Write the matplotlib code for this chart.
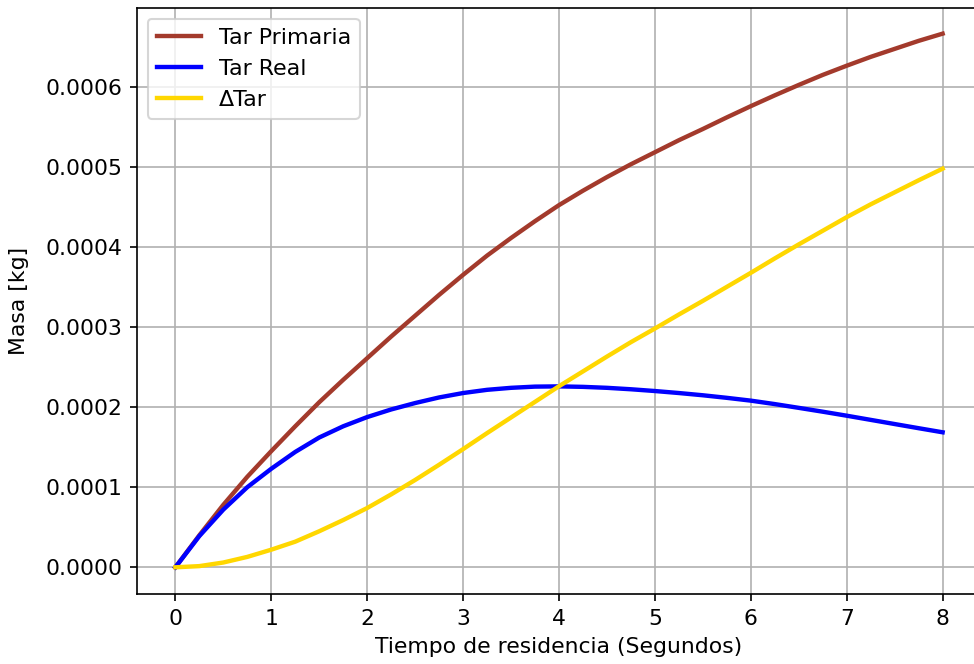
import matplotlib
matplotlib.use("Agg")
import matplotlib.pyplot as plt
from matplotlib.ticker import FormatStrFormatter

# residence time (s), every 0.25 s
tiempo = [0, 0.25, 0.5, 0.75, 1, 1.25, 1.5, 1.75, 2, 2.25, 2.5, 2.75, 3, 3.25, 3.5, 3.75,
          4, 4.25, 4.5, 4.75, 5, 5.25, 5.5, 5.75, 6, 6.25, 6.5, 6.75, 7, 7.25, 7.5, 7.75, 8]

# masses in units of 1e-4 kg
tar_primaria = [0, 0.40, 0.78, 1.13, 1.45, 1.76, 2.06, 2.34, 2.61, 2.88, 3.14, 3.40, 3.65,
                3.89, 4.11, 4.32, 4.52, 4.70, 4.87, 5.03, 5.18, 5.33, 5.47, 5.615, 5.755,
                5.89, 6.02, 6.145, 6.26, 6.37, 6.47, 6.57, 6.66]
tar_real = [0, 0.39, 0.72, 1.00, 1.23, 1.44, 1.62, 1.76, 1.875, 1.97, 2.05, 2.12, 2.175,
            2.215, 2.24, 2.255, 2.258, 2.252, 2.24, 2.222, 2.20, 2.175, 2.147, 2.115, 2.08,
            2.037, 1.99, 1.942, 1.892, 1.84, 1.788, 1.736, 1.685]
delta_tar = [0, 0.015, 0.06, 0.13, 0.22, 0.32, 0.45, 0.59, 0.74, 0.91, 1.09, 1.28, 1.475,
             1.675, 1.87, 2.065, 2.26, 2.445, 2.63, 2.81, 2.98, 3.155, 3.325, 3.50, 3.675,
             3.855, 4.03, 4.20, 4.37, 4.53, 4.68, 4.83, 4.975]

plt.rcParams["font.size"] = 10.5

fig = plt.figure(figsize=(974 / 150, 664 / 150), dpi=150)
ax = fig.add_axes([137 / 974, 70 / 664, (981 - 137) / 974, (594 - 8) / 664])

ax.plot(tiempo, [v * 1e-4 for v in tar_primaria], color="#a33a2c", lw=2.1, label="Tar Primaria")
ax.plot(tiempo, [v * 1e-4 for v in tar_real], color="#0000ff", lw=2.1, label="Tar Real")
ax.plot(tiempo, [v * 1e-4 for v in delta_tar], color="#ffd700", lw=2.1, label="\u0394Tar")

ax.set_xlim(-0.4, 8.4)
ax.set_ylim(-0.0000333, 0.000698)
ax.set_xticks(range(0, 9))
ax.set_yticks([0, 0.0001, 0.0002, 0.0003, 0.0004, 0.0005, 0.0006])
ax.yaxis.set_major_formatter(FormatStrFormatter("%.4f"))
ax.grid(True, color="#b0b0b0", lw=0.8)
ax.set_xlabel("Tiempo de residencia (Segundos)")
ax.set_ylabel("Masa [kg]", labelpad=8)
ax.legend(loc="upper left", fontsize=10.6)

fig.savefig("out.png", dpi=150, facecolor="white")
